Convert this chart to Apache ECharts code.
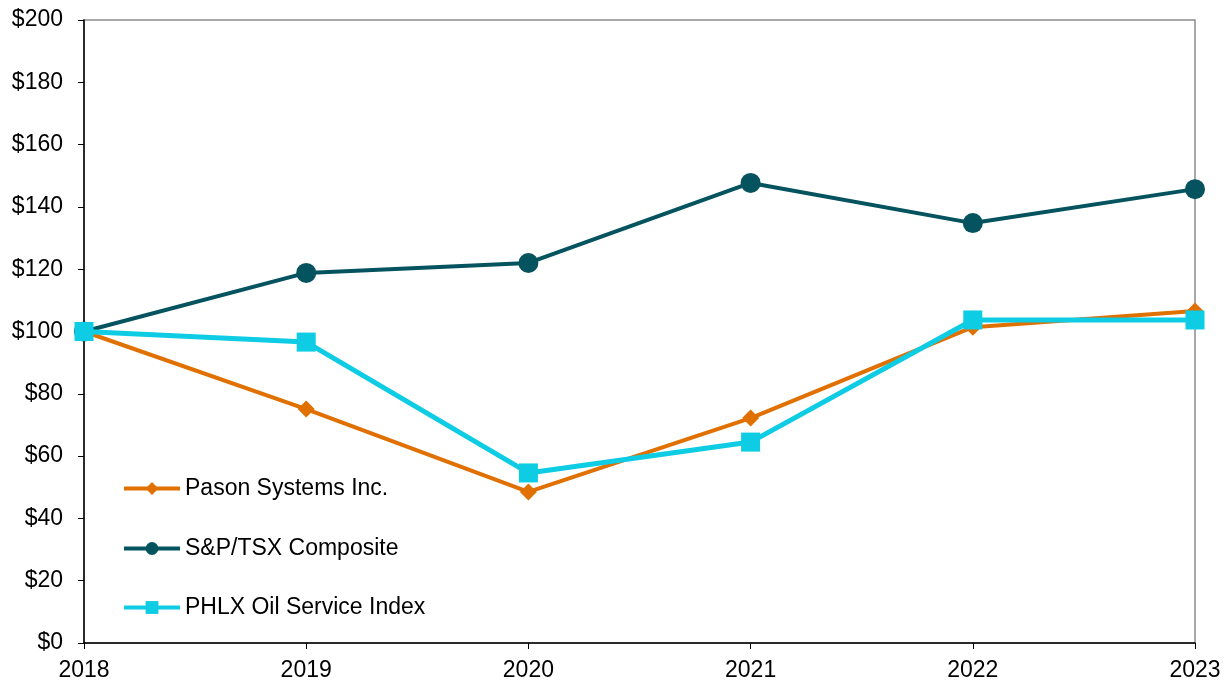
<!DOCTYPE html>
<html><head><meta charset="utf-8">
<script src="https://cdn.jsdelivr.net/npm/echarts@6/dist/echarts.min.js"></script>
<style>html,body{margin:0;padding:0;background:#fff}#c{width:1230px;height:686px}</style>
</head><body><div id="c"></div>
<script>
const years = ['2018','2019','2020','2021','2022','2023'];
const pason = [100, 75.1, 48.5, 72.2, 101.4, 106.6];
const sptsx = [100, 118.8, 122, 147.7, 134.8, 145.7];
const phlx = [100, 96.6, 54.6, 64.5, 103.7, 103.7];
const seriesNames = ['Pason Systems Inc.','S&P/TSX Composite','PHLX Oil Service Index'];
const yTicks = {min:0, max:200, interval:20};

const chart = echarts.init(document.getElementById('c'));
const font = 'Liberation Sans, Arial, sans-serif';
const legendTops = [472, 532, 591];
chart.setOption({
  animation:false,
  backgroundColor:'#fff',
  grid:{left:84, right:35, top:20, bottom:43, show:true, borderColor:'#8c8c8c', borderWidth:1.5},
  legend: seriesNames.map((n,i)=>({
    orient:'vertical', left:117, top:legendTops[i], itemWidth:56, itemHeight:16,
    textStyle:{fontFamily:font, fontSize:23, color:'#000'},
    lineStyle:{width:4},
    data:[n]
  })),
  xAxis:{type:'category', data:years, boundaryGap:false,
    axisLine:{lineStyle:{color:'#000', width:1.5}},
    axisTick:{show:true, length:6, lineStyle:{color:'#000'}, interval:0},
    axisLabel:{fontFamily:font, fontSize:23, color:'#000', margin:16},
    splitLine:{show:false}},
  yAxis:{type:'value', min:yTicks.min, max:yTicks.max, interval:yTicks.interval,
    axisLine:{show:true, lineStyle:{color:'#000', width:1.5}},
    axisTick:{show:true, length:6, lineStyle:{color:'#000'}},
    axisLabel:{fontFamily:font, fontSize:23, color:'#000', margin:21, formatter:v=>'$'+v},
    splitLine:{show:false}},
  series:[
    {name:seriesNames[0], type:'line', data:pason, symbol:'diamond', symbolSize:17,
      itemStyle:{color:'#E07000'}, lineStyle:{width:4, color:'#E07000'}, z:3},
    {name:seriesNames[1], type:'line', data:sptsx, symbol:'circle', symbolSize:20,
      itemStyle:{color:'#04535E'}, lineStyle:{width:4, color:'#04535E'}, z:2},
    {name:seriesNames[2], type:'line', data:phlx, symbol:'rect', symbolSize:19,
      itemStyle:{color:'#0DCCE3'}, lineStyle:{width:5, color:'#0DCCE3'}, z:4}
  ]
});
</script></body></html>
